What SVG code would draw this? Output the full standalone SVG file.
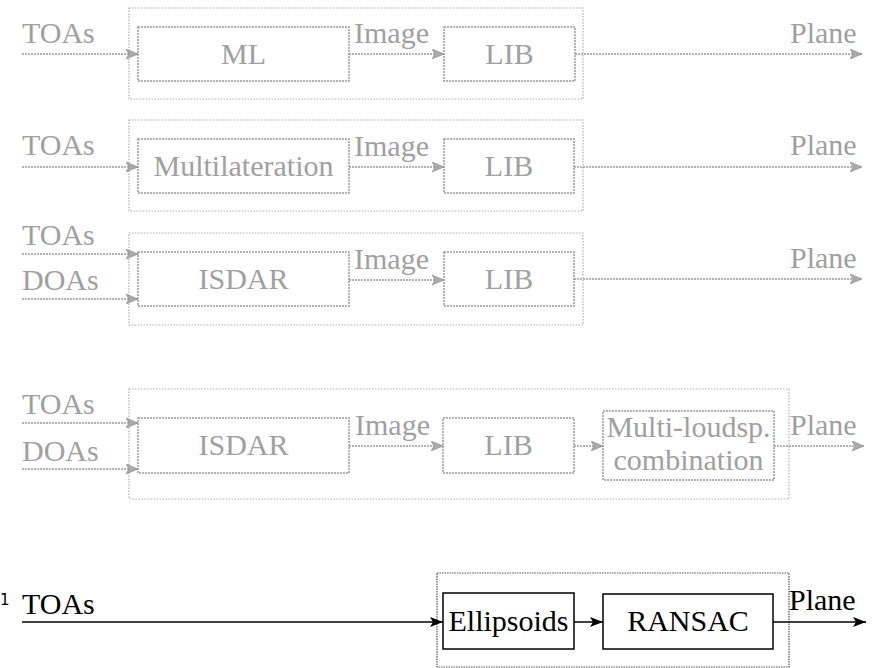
<svg xmlns="http://www.w3.org/2000/svg" width="872" height="668" viewBox="0 0 872 668">
<defs>
<marker id="ag" viewBox="0 0 12 10" refX="12" refY="5" markerWidth="12" markerHeight="10" markerUnits="userSpaceOnUse" orient="auto">
<path d="M0,0 L12,5 L0,10 L3,5 Z" fill="#aaa" stroke="#888" stroke-width="0.6"/>
</marker>
<marker id="ab" viewBox="0 0 13 10" refX="13" refY="5" markerWidth="13" markerHeight="10" markerUnits="userSpaceOnUse" orient="auto">
<path d="M0,0 L13,5 L0,10 L3,5 Z" fill="#000"/>
</marker>
</defs>
<style>
.gt{fill:#a0a0a0}
.bt{fill:#000}
.mid{text-anchor:middle}
.gbox{fill:none;stroke:#9a9a9a;stroke-width:1.5;stroke-dasharray:2 1}
.gout{fill:none;stroke:#aaa;stroke-width:1.2;stroke-dasharray:1.5 1.5}
.gline{fill:none;stroke:#9a9a9a;stroke-width:1.5;stroke-dasharray:2 1;marker-end:url(#ag)}
.bbox{fill:none;stroke:#000;stroke-width:1.5}
.bout{fill:none;stroke:#555;stroke-width:1.2;stroke-dasharray:1.5 1}
.bline{fill:none;stroke:#000;stroke-width:1.5;marker-end:url(#ab)}
</style>
<rect width="872" height="668" fill="#fff"/>

<g id="groups">
<rect class="gout" x="129" y="8" width="454" height="91"/>
<rect class="gout" x="129" y="120" width="454" height="91"/>
<rect class="gout" x="129" y="233" width="454" height="92"/>
<rect class="gout" x="129" y="389" width="660" height="110"/>
<rect class="bout" x="437" y="573" width="352" height="94"/>
</g>

<g id="connectors">
<path class="gline" d="M22,54 H138"/>
<path class="gline" d="M349,54 H444"/>
<path class="gline" d="M575,54 H862"/>
<path class="gline" d="M22,167 H138"/>
<path class="gline" d="M349,167 H444"/>
<path class="gline" d="M574,167 H862"/>
<path class="gline" d="M22,254 H138"/>
<path class="gline" d="M22,299 H138"/>
<path class="gline" d="M349,280 H444"/>
<path class="gline" d="M574,279 H862"/>
<path class="gline" d="M22,423 H138"/>
<path class="gline" d="M22,469 H138"/>
<path class="gline" d="M349,446 H443"/>
<path class="gline" d="M574,446 H603"/>
<path class="gline" d="M774,446 H864"/>
<path class="bline" d="M22,622 H443"/>
<path class="bline" d="M574,622 H603"/>
<path class="bline" d="M773,622 H866"/>
</g>

<g font-family="'Liberation Serif', 'Times New Roman', serif" font-size="30">
<g id="labels">
<text class="gt" x="22" y="43">TOAs</text>
<text class="gt" x="354" y="43">Image</text>
<text class="gt" x="790" y="43">Plane</text>
<text class="gt" x="22" y="155">TOAs</text>
<text class="gt" x="354" y="156">Image</text>
<text class="gt" x="790" y="155">Plane</text>
<text class="gt" x="22" y="245">TOAs</text>
<text class="gt" x="22" y="290">DOAs</text>
<text class="gt" x="354" y="269">Image</text>
<text class="gt" x="790" y="268">Plane</text>
<text class="gt" x="22" y="414">TOAs</text>
<text class="gt" x="22" y="461">DOAs</text>
<text class="gt" x="355" y="435">Image</text>
<text class="gt" x="790" y="435">Plane</text>
<text class="bt" x="22" y="614">TOAs</text>
<text class="bt" x="789" y="610">Plane</text>
<text class="bt" x="0" y="605" font-family="'DejaVu Sans', sans-serif" font-size="15">1</text>
</g>

<g id="n-ml1">
<rect class="gbox" x="138" y="27" width="211" height="54"/>
<text class="gt mid" x="243.5" y="64">ML</text>
</g>
<g id="n-lib1">
<rect class="gbox" x="444" y="27" width="131" height="54"/>
<text class="gt mid" x="509.5" y="64">LIB</text>
</g>
<g id="n-multilat">
<rect class="gbox" x="138" y="139" width="211" height="54"/>
<text class="gt mid" x="243.5" y="176">Multilateration</text>
</g>
<g id="n-lib2">
<rect class="gbox" x="444" y="139" width="130" height="54"/>
<text class="gt mid" x="509" y="176">LIB</text>
</g>
<g id="n-isdar3">
<rect class="gbox" x="138" y="252" width="211" height="54"/>
<text class="gt mid" x="243.5" y="289">ISDAR</text>
</g>
<g id="n-lib3">
<rect class="gbox" x="444" y="252" width="130" height="54"/>
<text class="gt mid" x="509" y="289">LIB</text>
</g>
<g id="n-isdar4">
<rect class="gbox" x="138" y="418" width="211" height="55"/>
<text class="gt mid" x="243.5" y="455">ISDAR</text>
</g>
<g id="n-lib4">
<rect class="gbox" x="443" y="418" width="131" height="55"/>
<text class="gt mid" x="508.5" y="455">LIB</text>
</g>
<g id="n-multi">
<rect class="gbox" x="603" y="411" width="171" height="69"/>
<text class="gt mid" x="688.5" y="437">Multi-loudsp.</text>
<text class="gt mid" x="688.5" y="470">combination</text>
</g>
<g id="n-ellipsoids">
<rect class="bbox" x="443" y="593" width="131" height="56"/>
<text class="bt mid" x="508.5" y="631">Ellipsoids</text>
</g>
<g id="n-ransac">
<rect class="bbox" x="603" y="594" width="170" height="55"/>
<text class="bt mid" x="688" y="631">RANSAC</text>
</g>
</g>
</svg>
